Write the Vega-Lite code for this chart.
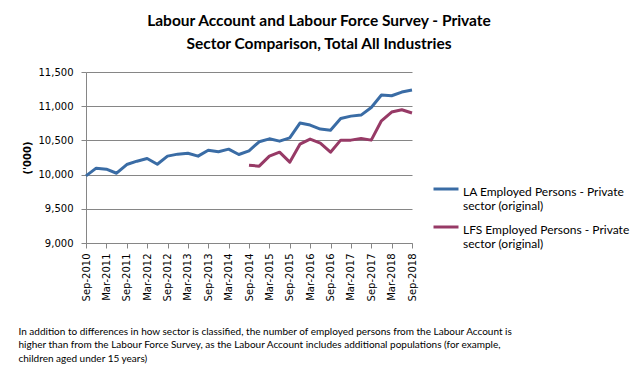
{
  "$schema": "https://vega.github.io/schema/vega-lite/v6.json",
  "autosize": "none",
  "width": 326,
  "height": 171,
  "padding": {"left": 86, "top": 72, "right": 231, "bottom": 135},
  "background": "white",
  "title": {
    "text": ["Labour Account and Labour Force Survey - Private", "Sector Comparison, Total All Industries"],
    "font": "Lato",
    "fontSize": 15.5,
    "fontWeight": "bold",
    "color": "#000000",
    "anchor": "middle",
    "dx": 70,
    "offset": 15,
    "lineHeight": 23
  },
  "data": {
    "values": [
      {"q": "Sep-2010", "s": "LA Employed Persons - Private sector (original)", "v": 9982},
      {"q": "Dec-2010", "s": "LA Employed Persons - Private sector (original)", "v": 10094},
      {"q": "Mar-2011", "s": "LA Employed Persons - Private sector (original)", "v": 10079},
      {"q": "Jun-2011", "s": "LA Employed Persons - Private sector (original)", "v": 10020},
      {"q": "Sep-2011", "s": "LA Employed Persons - Private sector (original)", "v": 10147},
      {"q": "Dec-2011", "s": "LA Employed Persons - Private sector (original)", "v": 10196},
      {"q": "Mar-2012", "s": "LA Employed Persons - Private sector (original)", "v": 10235},
      {"q": "Jun-2012", "s": "LA Employed Persons - Private sector (original)", "v": 10152},
      {"q": "Sep-2012", "s": "LA Employed Persons - Private sector (original)", "v": 10270},
      {"q": "Dec-2012", "s": "LA Employed Persons - Private sector (original)", "v": 10299},
      {"q": "Mar-2013", "s": "LA Employed Persons - Private sector (original)", "v": 10313},
      {"q": "Jun-2013", "s": "LA Employed Persons - Private sector (original)", "v": 10270},
      {"q": "Sep-2013", "s": "LA Employed Persons - Private sector (original)", "v": 10357},
      {"q": "Dec-2013", "s": "LA Employed Persons - Private sector (original)", "v": 10333},
      {"q": "Mar-2014", "s": "LA Employed Persons - Private sector (original)", "v": 10372},
      {"q": "Jun-2014", "s": "LA Employed Persons - Private sector (original)", "v": 10294},
      {"q": "Sep-2014", "s": "LA Employed Persons - Private sector (original)", "v": 10348},
      {"q": "Dec-2014", "s": "LA Employed Persons - Private sector (original)", "v": 10480},
      {"q": "Mar-2015", "s": "LA Employed Persons - Private sector (original)", "v": 10523},
      {"q": "Jun-2015", "s": "LA Employed Persons - Private sector (original)", "v": 10489},
      {"q": "Sep-2015", "s": "LA Employed Persons - Private sector (original)", "v": 10538},
      {"q": "Dec-2015", "s": "LA Employed Persons - Private sector (original)", "v": 10753},
      {"q": "Mar-2016", "s": "LA Employed Persons - Private sector (original)", "v": 10724},
      {"q": "Jun-2016", "s": "LA Employed Persons - Private sector (original)", "v": 10665},
      {"q": "Sep-2016", "s": "LA Employed Persons - Private sector (original)", "v": 10650},
      {"q": "Dec-2016", "s": "LA Employed Persons - Private sector (original)", "v": 10821},
      {"q": "Mar-2017", "s": "LA Employed Persons - Private sector (original)", "v": 10855},
      {"q": "Jun-2017", "s": "LA Employed Persons - Private sector (original)", "v": 10870},
      {"q": "Sep-2017", "s": "LA Employed Persons - Private sector (original)", "v": 10982},
      {"q": "Dec-2017", "s": "LA Employed Persons - Private sector (original)", "v": 11163},
      {"q": "Mar-2018", "s": "LA Employed Persons - Private sector (original)", "v": 11153},
      {"q": "Jun-2018", "s": "LA Employed Persons - Private sector (original)", "v": 11207},
      {"q": "Sep-2018", "s": "LA Employed Persons - Private sector (original)", "v": 11236},
      {"q": "Sep-2014", "s": "LFS Employed Persons - Private sector (original)", "v": 10138},
      {"q": "Dec-2014", "s": "LFS Employed Persons - Private sector (original)", "v": 10123},
      {"q": "Mar-2015", "s": "LFS Employed Persons - Private sector (original)", "v": 10270},
      {"q": "Jun-2015", "s": "LFS Employed Persons - Private sector (original)", "v": 10328},
      {"q": "Sep-2015", "s": "LFS Employed Persons - Private sector (original)", "v": 10182},
      {"q": "Dec-2015", "s": "LFS Employed Persons - Private sector (original)", "v": 10445},
      {"q": "Mar-2016", "s": "LFS Employed Persons - Private sector (original)", "v": 10519},
      {"q": "Jun-2016", "s": "LFS Employed Persons - Private sector (original)", "v": 10460},
      {"q": "Sep-2016", "s": "LFS Employed Persons - Private sector (original)", "v": 10328},
      {"q": "Dec-2016", "s": "LFS Employed Persons - Private sector (original)", "v": 10504},
      {"q": "Mar-2017", "s": "LFS Employed Persons - Private sector (original)", "v": 10504},
      {"q": "Jun-2017", "s": "LFS Employed Persons - Private sector (original)", "v": 10528},
      {"q": "Sep-2017", "s": "LFS Employed Persons - Private sector (original)", "v": 10504},
      {"q": "Dec-2017", "s": "LFS Employed Persons - Private sector (original)", "v": 10787},
      {"q": "Mar-2018", "s": "LFS Employed Persons - Private sector (original)", "v": 10914},
      {"q": "Jun-2018", "s": "LFS Employed Persons - Private sector (original)", "v": 10948},
      {"q": "Sep-2018", "s": "LFS Employed Persons - Private sector (original)", "v": 10900}
    ]
  },
  "mark": {"type": "line", "strokeWidth": 3, "strokeJoin": "round"},
  "encoding": {
    "x": {
      "field": "q",
      "type": "ordinal",
      "sort": null,
      "scale": {"type": "point", "padding": 0},
      "axis": {
        "values": ["Sep-2010","Mar-2011","Sep-2011","Mar-2012","Sep-2012","Mar-2013","Sep-2013","Mar-2014","Sep-2014","Mar-2015","Sep-2015","Mar-2016","Sep-2016","Mar-2017","Sep-2017","Mar-2018","Sep-2018"],
        "labelAngle": -90,
        "labelAlign": "right",
        "labelBaseline": "middle",
        "labelFont": "DejaVu Sans",
        "labelFontSize": 10,
        "labelColor": "#000000",
        "labelPadding": 5,
        "tickSize": 5,
        "tickColor": "#868686",
        "domainColor": "#868686",
        "grid": false,
        "title": ["In addition to differences in how sector is classified, the number of employed persons from the Labour Account is", "higher than from the Labour Force Survey, as the Labour Account includes additional populations (for example,", "children aged under 15 years)"],
        "titleFont": "Lato",
        "titleFontSize": 10,
        "titleFontWeight": "normal",
        "titleColor": "#000000",
        "titleAnchor": "start",
        "titleAlign": "left",
        "titleBaseline": "top",
        "titleX": -68,
        "titleY": 83,
        "titleLineHeight": 13.5
      }
    },
    "y": {
      "field": "v",
      "type": "quantitative",
      "scale": {"domain": [9000, 11500], "nice": false, "zero": false},
      "axis": {
        "values": [9000, 9500, 10000, 10500, 11000, 11500],
        "format": ",d",
        "labelFont": "DejaVu Sans",
        "labelFontSize": 10,
        "labelColor": "#000000",
        "labelPadding": 8,
        "tickSize": 5,
        "tickColor": "#868686",
        "domainColor": "#868686",
        "gridColor": "#868686",
        "title": "('000)",
        "titleFont": "DejaVu Sans",
        "titleFontSize": 10,
        "titleFontWeight": "bold",
        "titleColor": "#000000",
        "titleX": -59,
        "titleY": 85.5,
        "titleAlign": "center",
        "titleBaseline": "middle",
        "titleAngle": -90
      }
    },
    "color": {
      "field": "s",
      "type": "nominal",
      "scale": {"range": ["#3A6CA5", "#973A66"]},
      "legend": {
        "title": null,
        "orient": "none",
        "legendX": 346,
        "legendY": 103,
        "symbolType": "stroke",
        "symbolSize": 625,
        "symbolStrokeWidth": 3,
        "labelFont": "Lato",
        "labelFontSize": 12,
        "labelColor": "#000000",
        "labelBaseline": "top",
        "labelExpr": "indexof(datum.value, 'LFS') == 0 ? ['LFS Employed Persons - Private', 'sector (original)'] : ['LA Employed Persons - Private', 'sector (original)']",
        "labelLineHeight": 16,
        "labelOffset": 3,
        "rowPadding": 1,
        "labelLimit": 300,
        "encode": {"labels": {"update": {"dy": {"value": -2}}}}
      }
    }
  },
  "config": {
    "view": {"stroke": null}
  }
}
